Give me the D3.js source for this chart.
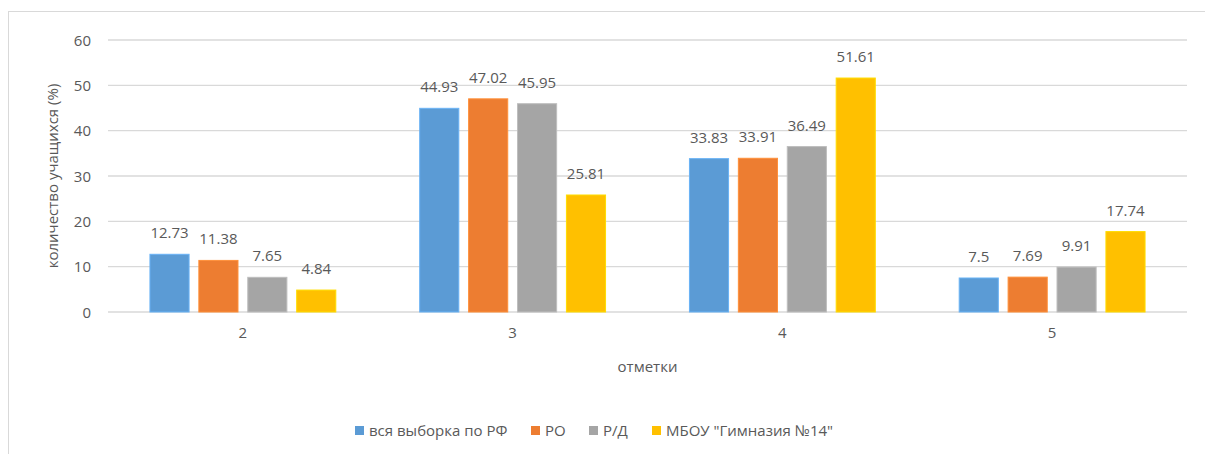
<!DOCTYPE html>
<html><head><meta charset="utf-8">
<script src="https://cdn.jsdelivr.net/npm/d3@7"></script>
<style>body{margin:0;background:#fff}svg{display:block}text{font-family:"Open Sans","Liberation Sans",sans-serif;fill:#595959}</style>
</head><body><svg id="c" width="1205" height="454"></svg>
<script>
const categories = ["2","3","4","5"];
const seriesNames = ["вся выборка по РФ","РО","Р/Д","МБОУ \"Гимназия №14\""];
const seriesColors = ["#5B9BD5","#ED7D31","#A5A5A5","#FFC000"];
const valuesRF = [12.73,44.93,33.83,7.5];
const valuesRO = [11.38,47.02,33.91,7.69];
const valuesRD = [7.65,45.95,36.49,9.91];
const valuesG14 = [4.84,25.81,51.61,17.74];
const yTicks = [0,10,20,30,40,50,60];
const series = [valuesRF,valuesRO,valuesRD,valuesG14];

const svg = d3.select("#c");
svg.append("rect").attr("x",8.5).attr("y",11.5).attr("width",1205).attr("height",460)
  .attr("fill","none").attr("stroke","#D9D9D9");
const L=108,R=1187,T=40,B=312;
const x = d3.scaleBand().domain(categories).range([L,R]).paddingInner(0.311).paddingOuter(0.1555);
const xs = d3.scaleBand().domain(d3.range(4)).range([0,x.bandwidth()]).paddingInner(0.2);
const y = d3.scaleLinear().domain([0,60]).range([B,T]);

const g = svg.append("g");
g.selectAll("line.grid").data(yTicks).join("line")
  .attr("x1",L).attr("x2",R).attr("y1",d=>y(d)).attr("y2",d=>y(d))
  .attr("stroke","#D9D9D9").attr("stroke-width",1.3);
const yAxis = d3.axisLeft(y).tickValues(yTicks).tickSize(0).tickPadding(17);
const ya = svg.append("g").attr("transform",`translate(${L},0)`).call(yAxis);
ya.select(".domain").remove();
ya.selectAll("text").style("font-size","15px").attr("fill","#595959").attr("dy","0.35em");

series.forEach((vals,si)=>{
  const gs = svg.append("g");
  gs.selectAll("rect").data(vals).join("rect")
    .attr("x",(d,i)=>x(categories[i])+xs(si)).attr("width",xs.bandwidth())
    .attr("y",d=>y(d)).attr("height",d=>y(0)-y(d)).attr("fill",seriesColors[si])
    .attr("stroke",d3.color(seriesColors[si]).brighter(0.4)).attr("stroke-width",1);
  gs.selectAll("text").data(vals).join("text")
    .attr("x",(d,i)=>x(categories[i])+xs(si)+xs.bandwidth()/2).attr("y",d=>y(d)-16)
    .attr("text-anchor","middle").style("font-size","15px").text(d=>d);
});
const xAxis = d3.axisBottom(x).tickSize(0).tickPadding(15);
const xa = svg.append("g").attr("transform",`translate(0,${B})`).call(xAxis);
xa.select(".domain").remove();
xa.selectAll("text").style("font-size","15px").attr("fill","#595959");

svg.append("text").attr("x",(L+R)/2).attr("y",372).attr("text-anchor","middle").style("font-size","15px").text("отметки");
svg.append("text").attr("transform",`translate(58,${(T+B)/2}) rotate(-90)`).attr("text-anchor","middle").style("font-size","15px").text("количество учащихся (%)");

const legX = [355,531,589,652];
const lg = svg.append("g");
seriesNames.forEach((n,i)=>{
  lg.append("rect").attr("x",legX[i]).attr("y",426).attr("width",9).attr("height",9).attr("fill",seriesColors[i]);
  lg.append("text").attr("x",legX[i]+14).attr("y",436).style("font-size","15px").text(n);
});
</script></body></html>
